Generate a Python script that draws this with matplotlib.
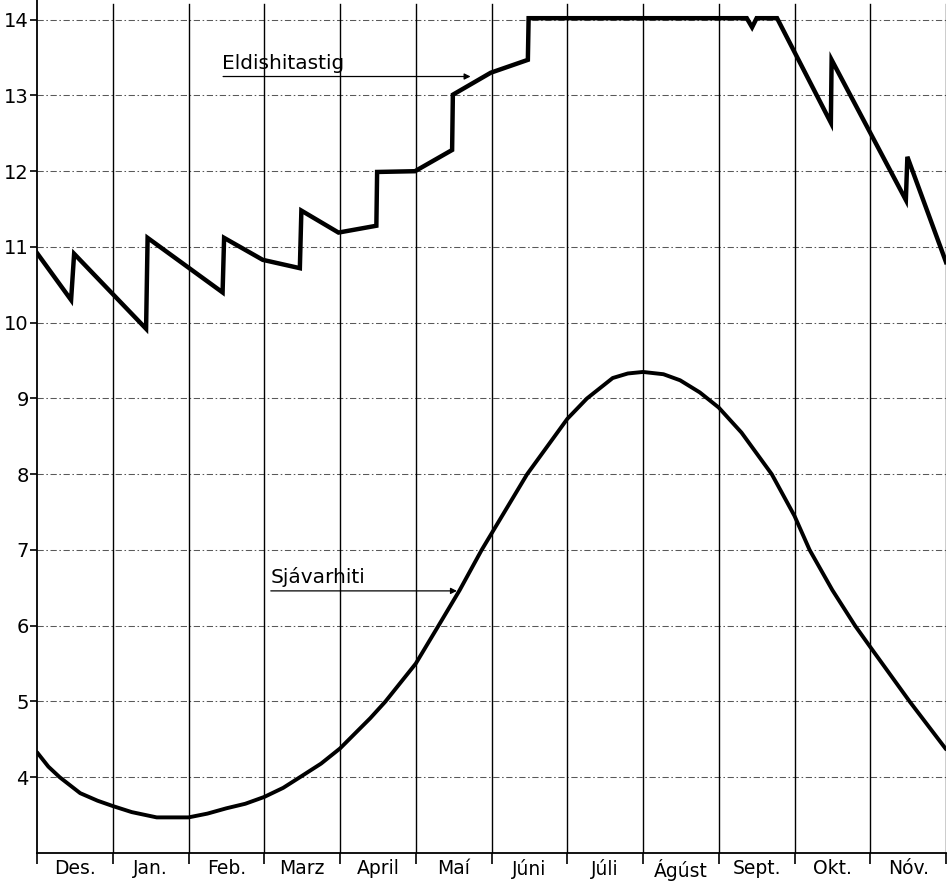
import numpy as np
import matplotlib
matplotlib.use("Agg")
import matplotlib.pyplot as plt

# month axis: 0 = start of Des., 12 = end of Nóv.
months = ["Des.", "Jan.", "Feb.", "Marz", "April", "Maí",
          "Júni", "Júli", "Ágúst", "Sept.", "Okt.", "Nóv."]

# Eldishitastig (upper curve)
eld_x = [0, 0.45, 0.49, 1.44, 1.46, 2.45, 2.47, 2.98, 3.47, 3.49, 3.98, 4.48, 4.49,
         4.99, 5.48, 5.49, 5.99, 6.48, 6.49, 9.37, 9.44, 9.50, 9.77, 10.48, 10.49,
         11.47, 11.49, 12.0]
eld_y = [10.92, 10.30, 10.91, 9.92, 11.12, 10.40, 11.12, 10.83, 10.72, 11.48, 11.19,
         11.28, 11.99, 12.0, 12.28, 13.01, 13.30, 13.47, 14.02, 14.02, 13.90, 14.02,
         14.02, 12.64, 13.47, 11.62, 12.19, 10.80]

# Sjávarhiti (lower curve)
sja_x = [0, 0.15, 0.3, 0.57, 0.8, 1.0, 1.25, 1.58, 2.0, 2.25, 2.5, 2.75, 3.0, 3.25,
         3.47, 3.75, 4.0, 4.4, 4.6, 5.0, 5.3, 5.58, 5.87, 6.02, 6.47, 7.0, 7.26, 7.6,
         7.8, 8.0, 8.27, 8.49, 8.75, 9.0, 9.3, 9.7, 10.0, 10.2, 10.5, 10.8, 11.0,
         11.52, 12.0]
sja_y = [4.33, 4.14, 4.0, 3.79, 3.69, 3.62, 3.54, 3.47, 3.47, 3.52, 3.59, 3.65, 3.74,
         3.86, 4.0, 4.18, 4.38, 4.78, 5.0, 5.5, 6.0, 6.47, 7.0, 7.25, 8.0, 8.73, 9.0,
         9.27, 9.33, 9.35, 9.32, 9.24, 9.08, 8.88, 8.55, 8.0, 7.45, 7.0, 6.47, 6.0,
         5.72, 5.0, 4.37]

fig = plt.figure(figsize=(9.52, 8.81), dpi=100)
ax = fig.add_axes([37 / 952, 1 - 853 / 881, 909 / 952, 853 / 881])
ax.set_xlim(0, 12)
ax.set_ylim(3.0, 14.26)

# grid: dashed horizontals, solid verticals
for v in range(4, 15):
    ax.axhline(v, color="0.35", lw=0.75, ls=(0, (6, 2.5, 1.5, 2.5)), zorder=1)
for m in range(1, 13):
    ax.axvline(m, ymax=0.995, color="black", lw=1.0, zorder=1)

ax.plot(eld_x, eld_y, color="black", lw=3.2, solid_joinstyle="miter", zorder=3)
ax.plot(sja_x, sja_y, color="black", lw=2.8, solid_capstyle="round", zorder=3)

# labels with leader lines
ax.text(2.44, 13.30, "Eldishitastig", fontsize=14.5, ha="left", va="bottom")
ax.annotate("", xy=(5.76, 13.25), xytext=(2.42, 13.25),
            arrowprops=dict(arrowstyle="-|>", color="black", lw=0.9,
                            mutation_scale=9))
ax.text(3.08, 6.51, "Sjávarhiti", fontsize=14.5, ha="left", va="bottom")
ax.annotate("", xy=(5.58, 6.46), xytext=(3.05, 6.46),
            arrowprops=dict(arrowstyle="-|>", color="black", lw=0.9,
                            mutation_scale=9))

ax.spines["top"].set_visible(False)
ax.spines["right"].set_visible(False)
ax.spines["left"].set_linewidth(1.3)
ax.spines["bottom"].set_linewidth(1.3)

ax.set_yticks(range(4, 15))
ax.set_yticklabels([str(v) for v in range(4, 15)], fontsize=14)
ax.tick_params(axis="y", direction="out", length=5, width=1.2, pad=1)

ax.set_xticks(range(0, 13))
ax.set_xticklabels([])
ax.set_xticks(np.arange(12) + 0.5, minor=True)
ax.set_xticklabels(months, minor=True, fontsize=13.5)
ax.tick_params(axis="x", which="major", direction="out", length=8, width=1.2)
ax.tick_params(axis="x", which="minor", length=0, pad=4)

fig.savefig("out.png", dpi=100)
